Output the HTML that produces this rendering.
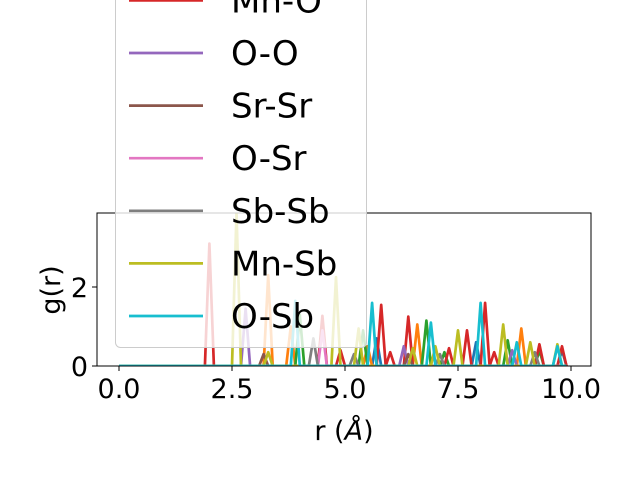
<!DOCTYPE html>
<html><head><meta charset="utf-8"><style>
body{margin:0;background:#fff}
svg{font-family:"DejaVu Sans","Liberation Sans",sans-serif}
</style></head><body>
<svg id="chart" width="640" height="480">
<rect x="0" y="0" width="640" height="480" fill="#fff"/>
<g id="plot"></g>
<g id="axes"></g>
<g id="legend"></g>
</svg>
<script>
const seriesNames = ["Mn-Mn","Mn-Sr","O-Mn","Mn-O","O-O","Sr-Sr","O-Sr","Sb-Sb","Mn-Sb","O-Sb"];
const seriesColors = ["#1f77b4","#ff7f0e","#2ca02c","#d62728","#9467bd","#8c564b","#e377c2","#7f7f7f","#bcbd22","#17becf"];
const peakR = [
 [5.7,7.9,9.8],
 [3.3,3.8,5.5,6.6,8.9],
 [4.0,5.4,6.8,7.2,8.6,9.3],
 [2.0,4.5,4.9,5.8,6.0,6.4,7.3,7.7,8.1,8.3,9.3,9.8],
 [2.8,6.3,8.7],
 [3.2,6.4],
 [4.5],
 [4.3,5.2,7.1,9.2],
 [2.6,3.3,4.8,5.3,6.5,7.0,7.5,8.5,9.1,9.7],
 [3.9,5.6,6.9,8.0,8.8,9.7]
];
const peakH = [
 [0.7,0.6,0.4],
 [2.3,1.0,0.5,1.05,0.95],
 [1.3,0.9,1.15,0.35,0.65,0.4],
 [3.1,1.27,0.4,1.55,0.35,1.25,0.45,0.9,1.6,0.35,0.55,0.5],
 [1.45,0.5,0.4],
 [0.3,0.3],
 [0.9],
 [0.7,0.3,0.3,0.35],
 [3.9,0.35,2.25,0.95,0.45,0.5,0.9,1.05,0.6,0.55],
 [1.65,1.6,1.1,1.6,0.6,0.5]
];
const xTicks = [0.0,2.5,5.0,7.5,10.0];
const xTickLabels = ["0.0","2.5","5.0","7.5","10.0"];
const yTicks = [0,2];
const yTickLabels = ["0","2"];

const X0=97,X1=591,Y0=213,Y1=366;
const xs = r => 119 + r*45.2;
const ys = v => 366 - v*39.5;
const NS="http://www.w3.org/2000/svg";
function mk(tag,attrs,parent){const e=document.createElementNS(NS,tag);for(const k in attrs)e.setAttribute(k,attrs[k]);parent.appendChild(e);return e;}

const plot=document.getElementById('plot');
const clip=mk('clipPath',{id:'cp'},plot);
mk('rect',{x:X0,y:Y0,width:X1-X0,height:Y1-Y0},clip);
const lines=mk('g',{'clip-path':'url(#cp)'},plot);
seriesNames.forEach((nm,i)=>{
  const vals=[];
  for(let k=0;k<100;k++)vals.push(0);
  peakR[i].forEach((r,j)=>{const k=Math.round(r*10);if(k>=0&&k<100)vals[k]=Math.max(vals[k],peakH[i][j]);});
  let d='';
  vals.forEach((v,k)=>{d+=(k?'L':'M')+xs(k/10).toFixed(1)+','+ys(v).toFixed(1);});
  const p=mk('path',{d:d,fill:'none',stroke:seriesColors[i],'stroke-width':2.7,'stroke-linejoin':'round'},lines);
  
  
});

const axes=document.getElementById('axes');
const fr=mk('rect',{x:X0,y:Y0,width:X1-X0,height:Y1-Y0,fill:'none',stroke:'#000','stroke-width':1},axes);

xTicks.forEach((t,i)=>{
  mk('line',{x1:xs(t),x2:xs(t),y1:Y1,y2:Y1+5,stroke:'#000'},axes);
  const tx=mk('text',{x:xs(t),y:Y1+32,'font-size':27,'text-anchor':'middle'},axes);
  tx.textContent=xTickLabels[i];
  
});
yTicks.forEach((t,i)=>{
  mk('line',{x1:X0,x2:X0-5,y1:ys(t),y2:ys(t),stroke:'#000'},axes);
  const tx=mk('text',{x:X0-9,y:ys(t)+10,'font-size':27,'text-anchor':'end'},axes);
  tx.textContent=yTickLabels[i];
  
});
const xl=mk('text',{x:344,y:440,'font-size':27,'text-anchor':'middle'},axes);
xl.innerHTML='r (<tspan font-style="italic">Å</tspan>)';

const yl=mk('text',{x:60,y:290,'font-size':27,'text-anchor':'middle',transform:'rotate(-90 60 290)'},axes);
yl.textContent='g(r)';


const leg=document.getElementById('legend');
const spacing=52.6, lastY=316;
const topY=lastY-spacing*(seriesNames.length-1)-30;
mk('rect',{x:115.5,y:topY,width:251,height:347.5-topY,rx:5,fill:'#fff','fill-opacity':0.8,stroke:'#ccc','stroke-width':1},leg);
seriesNames.forEach((nm,i)=>{
  const y=lastY-spacing*(seriesNames.length-1-i);
  const g=mk('g',{},leg);
  
  
  mk('line',{x1:129,x2:203,y1:y,y2:y,stroke:seriesColors[i],'stroke-width':2.7},g);
  const t=mk('text',{x:231,y:y+12,'font-size':34},g);
  t.textContent=nm;
});
</script>
</body></html>
